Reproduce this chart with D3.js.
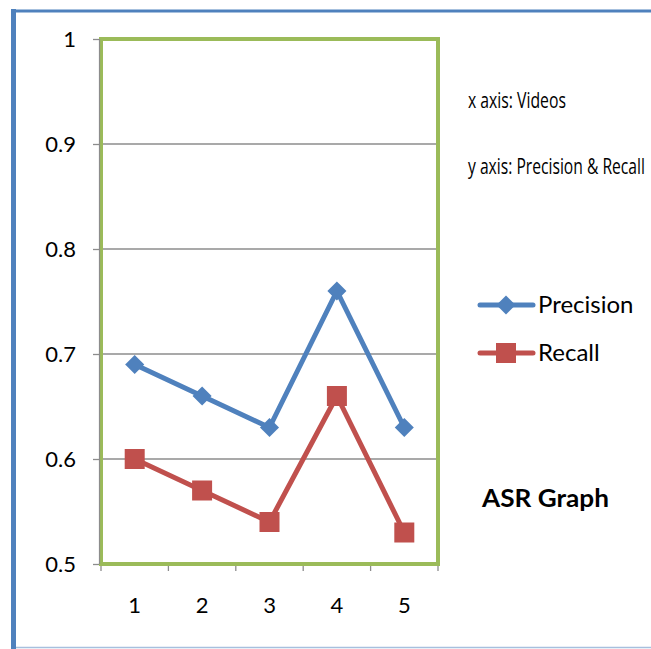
<!DOCTYPE html>
<html><head><meta charset="utf-8">
<script src="https://cdn.jsdelivr.net/npm/d3@7"></script>
<style>body{margin:0;background:#fff;}svg{display:block;}</style>
</head><body>
<script>
const categories = ["1","2","3","4","5"];
const precision = [0.69, 0.66, 0.63, 0.76, 0.63];
const recall = [0.60, 0.57, 0.54, 0.66, 0.53];
const yTicks = [0.5, 0.6, 0.7, 0.8, 0.9, 1];
const seriesNames = ["Precision", "Recall"];

const W = 651, H = 649;
const svg = d3.select("body").append("svg").attr("width", W).attr("height", H);
const font = "Lato, 'Open Sans', sans-serif";
const narrow = "'Open Sans', sans-serif";

// outer frame
svg.append("line").attr("x1",13.5).attr("x2",13.5).attr("y1",9).attr("y2",H).attr("stroke","#4F81BD").attr("stroke-width",5);
svg.append("line").attr("x1",11).attr("x2",W).attr("y1",11).attr("y2",11).attr("stroke","#4F81BD").attr("stroke-width",3);
svg.append("line").attr("x1",16).attr("x2",W).attr("y1",647.5).attr("y2",647.5).attr("stroke","#A7C0DE").attr("stroke-width",1.5);

const L = 101, R = 438, T = 39, B = 564;
const x = d3.scaleBand().domain(categories).range([L, R]);
const y = d3.scaleLinear().domain([0.5, 1]).range([B, T]);

// gridlines
svg.append("g").selectAll("line").data(yTicks.filter(d => d > 0.5 && d < 1)).join("line")
  .attr("x1", L).attr("x2", R).attr("y1", d => y(d)).attr("y2", d => y(d))
  .attr("stroke", "#8C8C8C").attr("stroke-width", 1.3);

// y axis
const yAxis = svg.append("g").attr("transform", `translate(${L},0)`)
  .call(d3.axisLeft(y).tickValues(yTicks).tickFormat(d => d === 1 ? "1" : d3.format(".1f")(d)).tickSize(8).tickPadding(17));
yAxis.select(".domain").remove();
yAxis.selectAll("line").attr("stroke", "#8C8C8C").attr("stroke-width", 1.3);
yAxis.selectAll("text").attr("font-family", font).attr("font-size", 22).attr("fill", "#000");

// x axis
const xAxis = svg.append("g").attr("transform", `translate(0,${B})`)
  .call(d3.axisBottom(x).tickSize(0).tickPadding(33));
xAxis.select(".domain").remove();
xAxis.selectAll("text").attr("font-family", font).attr("font-size", 22).attr("fill", "#000");
const bounds = categories.map(c => x(c)).concat([R]);
xAxis.selectAll("line.bnd").data(bounds).join("line").attr("class","bnd")
  .attr("x1", d => d).attr("x2", d => d).attr("y1", 0).attr("y2", 7)
  .attr("stroke", "#8C8C8C").attr("stroke-width", 1.3);

// plot border (green)
svg.append("rect").attr("x", L).attr("y", T).attr("width", R - L).attr("height", B - T)
  .attr("fill", "none").attr("stroke", "#9BBB59").attr("stroke-width", 4);
svg.append("line").attr("x1", L - 1.5).attr("x2", L - 1.5).attr("y1", T).attr("y2", B).attr("stroke", "#8C8C8C").attr("stroke-width", 1.2);

const cx = c => x(c) + x.bandwidth() / 2;
const colors = ["#4F81BD", "#C0504D"];
const data = [precision, recall];
const line = d3.line().x((d, i) => cx(categories[i])).y(d => y(d));
const ds = 13.5, sq = 20;

data.forEach((vals, si) => {
  svg.append("path").datum(vals).attr("d", line).attr("fill", "none")
    .attr("stroke", colors[si]).attr("stroke-width", 5).attr("stroke-linejoin", "round");
  const g = svg.append("g");
  vals.forEach((v, i) => {
    if (si === 0) {
      g.append("rect").attr("x", -ds/2).attr("y", -ds/2).attr("width", ds).attr("height", ds)
        .attr("fill", colors[0]).attr("transform", `translate(${cx(categories[i])},${y(v)}) rotate(45)`);
    } else {
      g.append("rect").attr("x", cx(categories[i]) - sq/2).attr("y", y(v) - sq/2).attr("width", sq).attr("height", sq)
        .attr("fill", colors[1]);
    }
  });
});

// legend
const leg = svg.append("g");
seriesNames.forEach((name, i) => {
  const ly = 305 + i * 48;
  leg.append("line").attr("x1", 480).attr("x2", 533).attr("y1", ly).attr("y2", ly)
    .attr("stroke", colors[i]).attr("stroke-width", 5).attr("stroke-linecap", "round");
  if (i === 0) {
    leg.append("rect").attr("x", -ds/2).attr("y", -ds/2).attr("width", ds).attr("height", ds)
      .attr("fill", colors[0]).attr("transform", `translate(506,${ly}) rotate(45)`);
  } else {
    leg.append("rect").attr("x", 506 - sq/2).attr("y", ly - sq/2).attr("width", sq).attr("height", sq).attr("fill", colors[1]);
  }
  leg.append("text").attr("x", 538).attr("y", ly + 8).text(name)
    .attr("font-family", font).attr("font-size", 24).attr("fill", "#000");
});

// annotations (horizontally condensed via scale transform)
function condensed(txt, x0, y0, width, size, fam, weight) {
  const t = svg.append("text").attr("x", 0).attr("y", 0).text(txt)
    .attr("font-family", fam).attr("font-size", size).attr("font-weight", weight || "normal").attr("fill", "#000");
  const len = t.node().getComputedTextLength();
  t.attr("transform", `translate(${x0},${y0}) scale(${width / len},1)`);
}
condensed("x axis: Videos", 468, 108, 98, 21, narrow);
condensed("y axis: Precision & Recall", 468, 174, 177, 21, narrow);
condensed("ASR Graph", 482, 507, 127, 24, font, "bold");
</script>
</body></html>
